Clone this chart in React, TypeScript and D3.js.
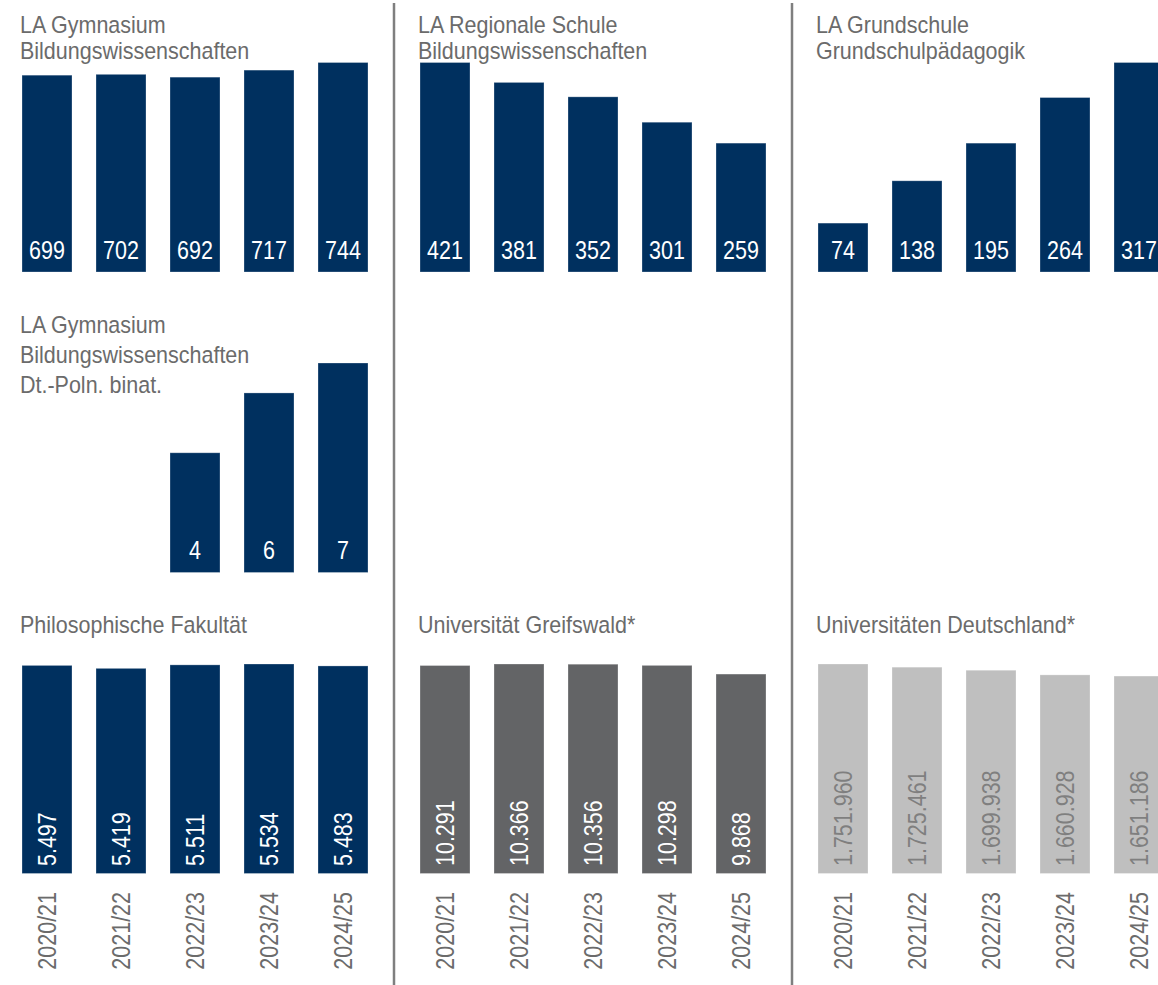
import React from 'react';
import * as d3 from 'd3';

const years = ['2020/21', '2021/22', '2022/23', '2023/24', '2024/25'];
const gymValues: (number | null)[] = [699, 702, 692, 717, 744];
const regValues: (number | null)[] = [421, 381, 352, 301, 259];
const grundValues: (number | null)[] = [74, 138, 195, 264, 317];
const binatValues: (number | null)[] = [null, null, 4, 6, 7];
const philValues: (number | null)[] = [5497, 5419, 5511, 5534, 5483];
const greifswaldValues: (number | null)[] = [10291, 10366, 10356, 10298, 9868];
const deutschlandValues: (number | null)[] = [1751960, 1725461, 1699938, 1660928, 1651186];

const gymTitle = ['LA Gymnasium', 'Bildungswissenschaften'];
const regTitle = ['LA Regionale Schule', 'Bildungswissenschaften'];
const grundTitle = ['LA Grundschule', 'Grundschulpädagogik'];
const binatTitle = ['LA Gymnasium', 'Bildungswissenschaften', 'Dt.-Poln. binat.'];
const philTitle = ['Philosophische Fakultät'];
const greifswaldTitle = ['Universität Greifswald*'];
const deutschlandTitle = ['Universitäten Deutschland*'];

const NAVY = '#00305f';
const DARK = '#636466';
const LIGHT = '#bfbfbf';
const TEXT = '#6b6b6b';
const FONT = '"Liberation Sans", Arial, sans-serif';
const SX = 0.86;
const FS = 25;

const de = d3.formatLocale({ decimal: ',', thousands: '.', grouping: [3], currency: ['', '€'] });
const fmt = de.format(',d');

type PanelProps = {
  x0: number;
  bottom: number;
  values: (number | null)[];
  color: string;
  labelColor: string;
  title: string[];
  titleY: number[];
  rotated: boolean;
  labelY: number;
  showAxis: boolean;
};

function Panel({ x0, bottom, values, color, labelColor, title, titleY, rotated, labelY, showAxis }: PanelProps) {
  const x = d3.scaleBand<string>().domain(years).range([x0, x0 + 370]).paddingInner(24 / 74).paddingOuter(12 / 74);
  const max = d3.max(values.filter((v): v is number => v != null)) as number;
  const y = d3.scaleLinear().domain([0, max]).range([bottom, bottom - 209.5]);
  const bw = x.bandwidth();
  return (
    <g>
      {values.map((v, i) => {
        if (v == null) return null;
        const bx = x(years[i]) as number;
        return (
          <rect key={'b' + i} x={bx} y={y(v)} width={bw} height={y(0) - y(v)} fill={color}
            stroke="rgba(255,255,255,0.35)" strokeWidth={0.8} />
        );
      })}
      {values.map((v, i) => {
        if (v == null) return null;
        const cx = (x(years[i]) as number) + bw / 2;
        if (rotated) {
          return (
            <g key={'l' + i} transform={`translate(${cx + 9},${labelY}) rotate(-90) scale(${SX},1)`}>
              <text x={0} y={0} fontSize={FS} fill={labelColor} fontFamily={FONT} textAnchor="start">{fmt(v)}</text>
            </g>
          );
        }
        return (
          <g key={'l' + i} transform={`translate(${cx},${labelY}) scale(${SX},1)`}>
            <text x={0} y={0} fontSize={FS} fill={labelColor} fontFamily={FONT} textAnchor="middle">{fmt(v)}</text>
          </g>
        );
      })}
      {showAxis && years.map((yr, i) => {
        const cx = (x(yr) as number) + bw / 2;
        return (
          <g key={'a' + i} transform={`translate(${cx + 9},892) rotate(-90) scale(${SX},1)`}>
            <text x={0} y={0} fontSize={FS} fill={TEXT} fontFamily={FONT} textAnchor="end">{yr}</text>
          </g>
        );
      })}
      {title.map((t, i) => (
        <g key={'t' + i} transform={`translate(${x0 + 10},${titleY[i]}) scale(0.87,1)`}>
          <text x={0} y={0} fontSize={24.7} fill={TEXT} fontFamily={FONT}>{t}</text>
        </g>
      ))}
    </g>
  );
}

export default function App() {
  return (
    <svg width={1158} height={985} style={{ position: 'absolute', left: 0, top: 0, background: '#fff' }}>
      <rect x={0} y={0} width={1158} height={985} fill="#fff" />
      <Panel x0={10} bottom={272} values={gymValues} color={NAVY} labelColor="#fff" title={gymTitle} titleY={[33, 59]} rotated={false} labelY={259} showAxis={false} />
      <Panel x0={408} bottom={272} values={regValues} color={NAVY} labelColor="#fff" title={regTitle} titleY={[33, 59]} rotated={false} labelY={259} showAxis={false} />
      <Panel x0={806} bottom={272} values={grundValues} color={NAVY} labelColor="#fff" title={grundTitle} titleY={[33, 59]} rotated={false} labelY={259} showAxis={false} />
      <Panel x0={10} bottom={572.5} values={binatValues} color={NAVY} labelColor="#fff" title={binatTitle} titleY={[333, 363, 393]} rotated={false} labelY={559} showAxis={false} />
      <Panel x0={10} bottom={873.5} values={philValues} color={NAVY} labelColor="#fff" title={philTitle} titleY={[633]} rotated={true} labelY={866} showAxis={true} />
      <Panel x0={408} bottom={873.5} values={greifswaldValues} color={DARK} labelColor="#fff" title={greifswaldTitle} titleY={[633]} rotated={true} labelY={866} showAxis={true} />
      <Panel x0={806} bottom={873.5} values={deutschlandValues} color={LIGHT} labelColor="#7f7f7f" title={deutschlandTitle} titleY={[633]} rotated={true} labelY={866} showAxis={true} />
      <line x1={394} x2={394} y1={3} y2={985} stroke="#7f7f7f" strokeWidth={2.5} />
      <line x1={792} x2={792} y1={3} y2={985} stroke="#7f7f7f" strokeWidth={2.5} />
    </svg>
  );
}
